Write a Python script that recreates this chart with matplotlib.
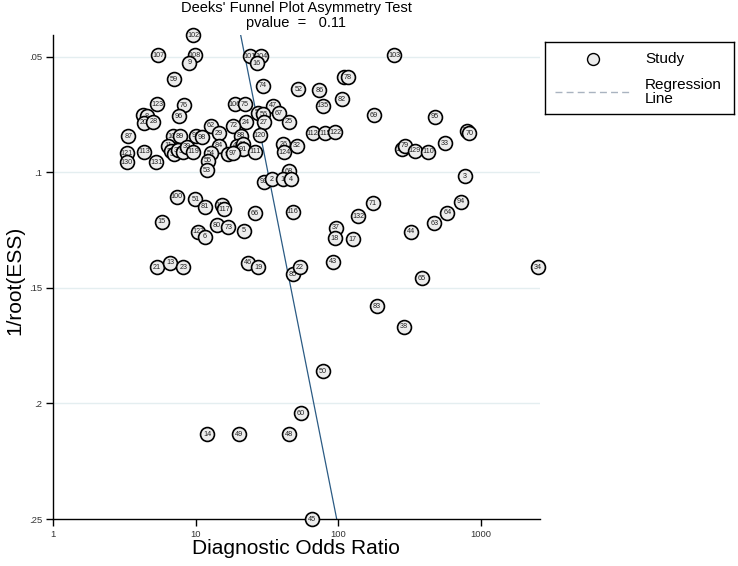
import numpy as np
import matplotlib
matplotlib.use("Agg")
import matplotlib.pyplot as plt
from matplotlib.lines import Line2D

plt.rcParams["font.family"] = ["Liberation Sans", "DejaVu Sans"]

# Study labels, diagnostic odds ratio and 1/root(ESS)
study = ["102", "107", "108", "9", "59", "123", "76", "96", "7", "8", "20", "28",
         "87", "109", "89", "121", "130", "113", "131",
         "11", "30", "31", "35", "36", "39", "119",
         "101", "104", "16", "74", "52", "86", "77", "78", "82", "135", "106", "75",
         "47", "58", "56", "67", "27", "25", "24", "72", "62", "29", "88", "92", "98",
         "120", "112", "115", "122", "84", "40", "61", "91", "111", "26", "32", "124",
         "54", "90", "97", "55", "53", "68", "93", "2", "1", "4",
         "103", "69", "95", "126", "70", "33", "105", "79", "129", "110", "3",
         "100", "51", "15", "127", "6", "21", "13", "23", "81", "114", "117", "66",
         "116", "132", "80", "73", "5", "37", "18", "17", "46", "19", "85", "22", "43",
         "71", "94", "64", "63", "44", "34", "65",
         "83", "38", "50", "60", "14", "49", "48", "45"]
dor = [9.6, 5.46, 9.87, 9.0, 7.03, 5.34, 8.26, 7.62, 4.26, 4.55, 4.33, 5.03,
       3.36, 6.95, 7.74, 3.27, 3.27, 4.33, 5.26,
       6.38, 6.70, 7.03, 7.50, 8.13, 8.67, 9.60,
       24.0, 28.7, 26.8, 29.5, 52.4, 73.6, 110, 117, 106, 77.8, 18.8, 22.1,
       35.0, 27.5, 29.8, 38.4, 30.1, 45.1, 22.5, 18.3, 12.7, 14.6, 20.7, 10.0, 11.0,
       28.2, 66.1, 80.7, 94.8, 14.6, 19.4, 21.5, 21.5, 26.0, 41.1, 51.1, 41.8,
       12.7, 16.9, 18.3, 12.2, 11.9, 45.1, 30.1, 34.1, 40.7, 46.3,
       246, 178, 477, 804, 830, 561, 279, 294, 345, 428, 775,
       7.34, 9.92, 5.77, 10.4, 11.6, 5.32, 6.59, 8.17, 11.6, 15.2, 15.8, 26.0,
       47.9, 138, 14.0, 16.9, 21.8, 95.9, 94.8, 126, 23.4, 27.5, 47.9, 53.8, 91.4,
       174, 723, 582, 472, 322, 2506, 385,
       186, 288, 77.8, 54.4, 12.0, 20.2, 45.1, 65.0]
ress = [.0406, .0493, .0493, .0526, .0597, .0705, .0709, .0757, .0752, .0757, .0786, .0781,
        .0843, .0843, .0843, .0918, .0957, .0911, .0957,
        .0886, .0908, .0921, .0904, .0912, .0890, .0911,
        .0497, .0497, .0529, .0626, .0641, .0644, .0589, .0589, .0683, .0713, .0705, .0705,
        .0713, .0742, .0748, .0745, .0784, .0781, .0784, .0799, .0799, .0832, .0842, .0842, .0849,
        .0839, .0832, .0832, .0827, .0885, .0885, .0878, .0901, .0911, .0878, .0885, .0914,
        .0918, .0921, .0918, .0950, .0990, .0995, .1041, .1029, .1029, .1029,
        .0493, .0752, .0760, .0820, .0832, .0875, .0901, .0886, .0907, .0911, .1016,
        .1106, .1117, .1214, .1257, .1279, .1411, .1391, .1411, .1149, .1142, .1160, .1178,
        .1171, .1189, .1228, .1238, .1253, .1240, .1286, .1289, .1391, .1411, .1440, .1411, .1387,
        .1134, .1127, .1175, .1221, .1257, .1411, .1459,
        .1579, .1668, .1860, .2043, .2133, .2133, .2133, .2500]

# Deeks regression: ln(DOR) = a + b * 1/root(ESS)
reg_intercept = 2.727
reg_slope = 7.41
p_value = 0.11

y_ticks = [0.05, 0.10, 0.15, 0.20, 0.25]
y_ticklabels = [".05", ".1", ".15", ".2", ".25"]
x_ticks = [1, 10, 100, 1000]
x_ticklabels = ["1", "10", "100", "1000"]

fig = plt.figure(figsize=(7.38, 5.66), dpi=100)
ax = fig.add_axes([0.0722, 0.0830, 0.6595, 0.8551])

ax.set_xscale("log")
ax.set_xlim(1, 2603)
ax.set_ylim(0.25, min(ress))

for yy in y_ticks[:-1]:
    ax.axhline(yy, color="#e4eef0", lw=1.0, zorder=0)

# studies, drawn one by one so later circles sit on top of earlier ones
for i, (lab, d, r) in enumerate(zip(study, dor, ress)):
    ax.scatter([d], [r], s=100, facecolor="#ececec", edgecolor="black",
               linewidths=1.2, zorder=3 + 2 * i, clip_on=False)
    ax.text(d, r, lab, fontsize=5.2, ha="center", va="center", color="#222222",
            zorder=4 + 2 * i, clip_on=False)

yy = np.linspace(min(ress), 0.25, 50)
ax.plot(np.exp(reg_intercept + reg_slope * yy), yy, color="#2b5b84", lw=0.9, zorder=2)

ax.set_yticks(y_ticks)
ax.set_yticklabels(y_ticklabels)
ax.set_xticks(x_ticks)
ax.set_xticklabels(x_ticklabels)
ax.xaxis.set_minor_locator(matplotlib.ticker.NullLocator())
ax.tick_params(axis="both", labelsize=6.8, length=5, width=1.0, pad=3, colors="black",
               labelcolor="#333333")

for s in ["top", "right"]:
    ax.spines[s].set_visible(False)
for s in ["left", "bottom"]:
    ax.spines[s].set_linewidth(1.0)

fig.text(0.401, 1 - 8 / 566, "Deeks' Funnel Plot Asymmetry Test", ha="center", va="center",
         fontsize=10.5)
fig.text(0.401, 1 - 23 / 566, f"pvalue  =   {p_value:.2f}", ha="center", va="center",
         fontsize=10.5)
fig.text(0.401, 1 - 548 / 566, "Diagnostic Odds Ratio", ha="center", va="center", fontsize=15)
fig.text(0.0203, 0.505, "1/root(ESS)", ha="center", va="center", rotation=90, fontsize=15)

# legend box
lax = fig.add_axes([0.7385, 0.7986, 0.256, 0.1272])
lax.set_xlim(0, 1)
lax.set_ylim(0, 1)
lax.set_xticks([])
lax.set_yticks([])
for s in lax.spines.values():
    s.set_linewidth(1.0)
lax.add_line(Line2D([0.254], [0.764], marker="o", markersize=8.6, markerfacecolor="#ececec",
                    markeredgecolor="black", markeredgewidth=1.0, linestyle="none"))
lax.text(0.529, 0.764, "Study", fontsize=11, va="center", ha="left")
lax.add_line(Line2D([0.053, 0.46], [0.306, 0.306], color="#a9b3c0", lw=1.0, linestyle=(0, (5, 3))))
lax.text(0.529, 0.31, "Regression\nLine", fontsize=11, va="center", ha="left", linespacing=1.0)

fig.savefig("out.png", dpi=100)
